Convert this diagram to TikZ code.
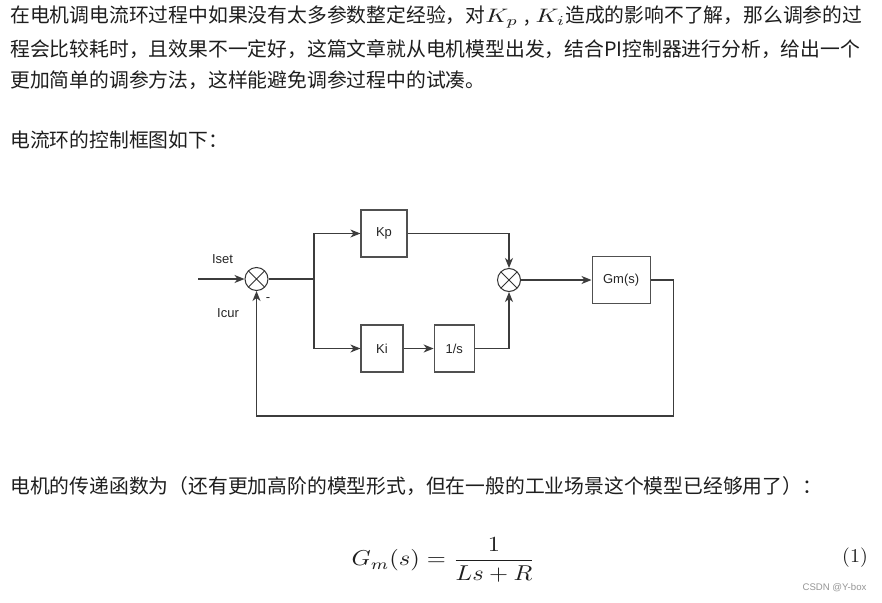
\documentclass[tikz,border=0pt]{standalone}
\usepackage{amsmath}
\usepackage{graphicx}
\usepackage{fontspec}
\usepackage{tikz}
\usetikzlibrary{positioning,arrows.meta}
\newfontfamily\cjkfont{Noto Sans CJK SC}
\newfontfamily\diafont{Liberation Sans}
\definecolor{wire}{RGB}{60,60,60}
\definecolor{body}{RGB}{30,30,30}
\definecolor{mark}{RGB}{150,150,150}
% math at 10pt design, blown up (x and y factor)
\newcommand{\bigmath}[3]{\scalebox{#1}[#2]{\fontsize{10}{12}\selectfont #3}}

\begin{document}
\begin{tikzpicture}[
    x=1pt, y=-1pt,
    txt/.style={anchor=west, inner sep=0, text=body, font=\cjkfont\fontsize{19.8}{23}\selectfont},
    blk/.style={draw=wire!90, line width=1.2pt, minimum height=47pt, inner sep=0, font=\diafont\fontsize{13}{15}\selectfont, text=black!85},
    sumnode/.style={circle, draw=black!80, line width=1pt, minimum size=23pt, inner sep=0,
        path picture={\draw[line width=0.9pt, black!80] (path picture bounding box.north west) -- (path picture bounding box.south east)
            (path picture bounding box.north east) -- (path picture bounding box.south west);}},
    lbl/.style={inner sep=0, font=\diafont\fontsize{13}{15}\selectfont, text=black!85},
    link/.style={line width=1.3pt, draw=wire},
    arrow/.style={-{Stealth[length=10pt, width=8pt, inset=3pt]}, line width=1.3pt, draw=wire}
]
    \useasboundingbox[fill=white] (0,0) rectangle (882,602);

    % Text
    \node[txt] (para1a) at (10,16.5) {在电机调电流环过程中如果没有太多参数整定经验，对\bigmath{2.5}{1.95}{$K_p$}\hspace{6pt},\hspace{6pt}\bigmath{2.5}{1.95}{$K_i$}造成的影响不了解，那么调参的过};
    \node[txt] (para1b) at (10,49.5) {程会比较耗时，且效果不一定好，这篇文章就从电机模型出发，结合PI控制器进行分析，给出一个};
    \node[txt] (para1c) at (10,80) {更加简单的调参方法，这样能避免调参过程中的试凑。};
    \node[txt] (caption) at (10,140) {电流环的控制框图如下：};

    % Loop
    \node[sumnode] (sum1) at (256.5,279) {};
    \coordinate (iset) at (198,279);
    \coordinate (split) at (314,279);
    \node[blk, minimum width=46pt] (kp) at (384,233.5) {Kp};
    \node[blk, minimum width=42pt] (ki) at (382,348.5) {Ki};
    \node[blk, minimum width=40pt, right=30pt of ki] (integ) {1/s};
    \node[sumnode] (sum2) at (509,280) {};
    \node[blk, minimum width=58pt, right=70.5pt of sum2] (gm) {Gm(s)};
    \coordinate[right=23pt of gm.east] (out);
    \coordinate (fb) at (out |- 0,416);

    % Labels
    \node[lbl] (lset) at (222.5,259) {Iset};
    \node[lbl] (lcur) at (228,313.5) {Icur};
    \node[lbl] (lminus) at (268,300) {-};

    % Arrows
    \draw[arrow] (iset) -- (sum1);
    \draw[link] (sum1) -- (split);
    \draw[arrow] (split) |- (kp);
    \draw[arrow] (split) |- (ki);
    \draw[arrow] (ki) -- (integ);
    \draw[arrow] (kp) -| (sum2);
    \draw[arrow] (integ) -| (sum2);
    \draw[arrow] (sum2) -- (gm);
    \draw[arrow] (gm.east) -- (out) -- (fb) -| (sum1);

    % Model
    \node[txt] (para2) at (10,486) {电机的传递函数为（还有更加高阶的模型形式，但在一般的工业场景这个模型已经够用了）：};
    \node[inner sep=0, text=body] (eqn) at (443.5,560) {\bigmath{2.45}{2.15}{$\displaystyle G_m(s)=\frac{1}{Ls+R}$}};
    \node[inner sep=0, text=body] (eqnum) at (855,558) {\bigmath{2.0}{1.95}{(1)}};
    \node[inner sep=0, text=mark, font=\diafont\fontsize{9.6}{11}\selectfont] (credit) at (834.5,588) {CSDN @Y-box};
\end{tikzpicture}
\end{document}
